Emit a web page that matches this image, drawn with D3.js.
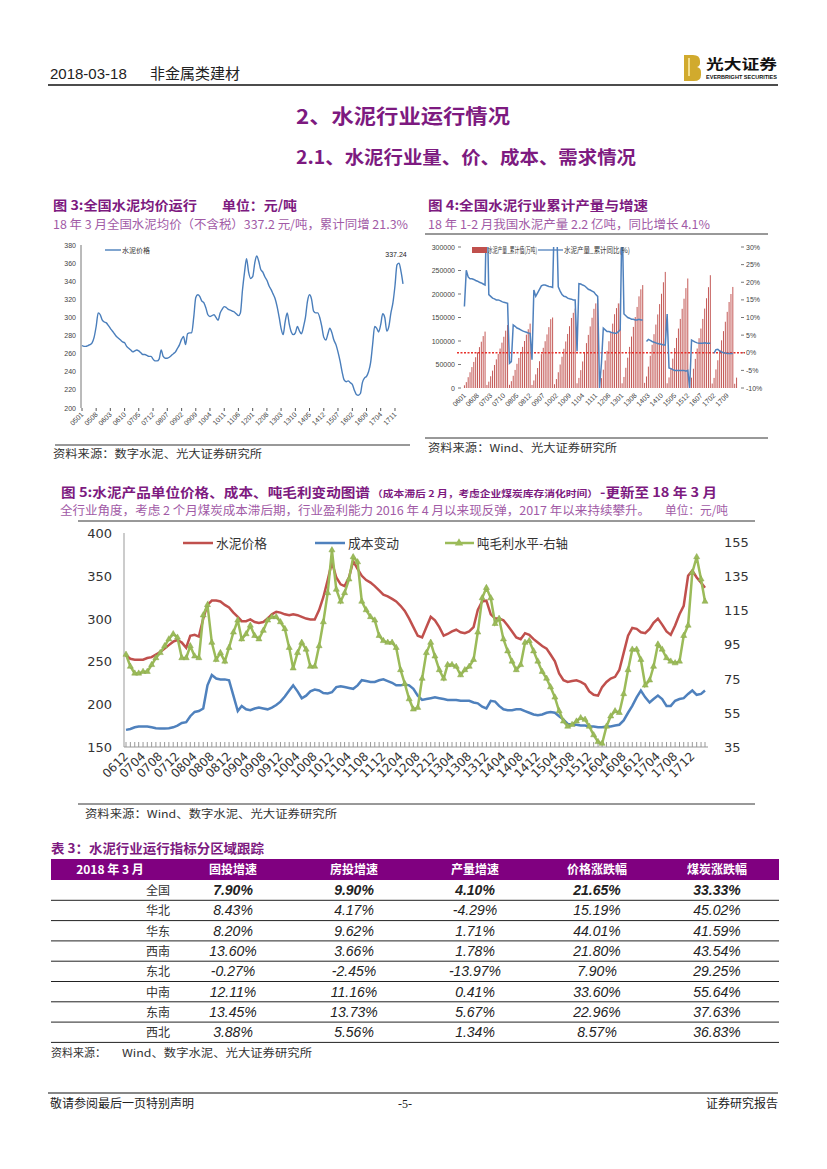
<!DOCTYPE html>
<html lang="zh">
<head>
<meta charset="utf-8">
<title>水泥行业运行情况</title>
<script src="https://d3js.org/d3.v7.min.js"></script>
<style>
  body { margin: 0; background: #fff; }
  svg { display: block; }
</style>
</head>
<body>
<script>
// ---------------- 数据 ----------------
// 图3：全国水泥均价（元/吨），2005-01 ~ 2018-03 月度
var price3Start = new Date(2005, 0, 1);
var price3 = [269,268,268,269,270,272,278,290,305,303,297,295,294,291,288,285,282,279,277,275,273,272,268,266,
  264,262,263,264,263,261,259,259,258,257,257,254,252,252,254,264,257,255,255,256,258,260,262,266,
  270,276,279,270,282,283,283,300,322,325,323,318,316,310,303,301,302,303,300,297,305,309,312,311,
  309,308,307,306,304,302,305,330,350,365,350,343,345,360,368,362,353,350,345,341,335,331,326,321,
  312,300,288,281,295,305,293,284,281,283,290,285,282,290,300,318,325,320,307,305,305,300,290,278,
  275,282,288,283,275,270,262,252,240,231,229,230,228,226,220,215,214,216,228,233,235,240,250,270,
  290,288,284,292,304,300,285,290,305,316,335,358,360,350,337];
var price3Ticks = ["0501","0508","0603","0610","0705","0712","0807","0902","0909","1004","1011","1106",
  "1201","1208","1303","1310","1405","1412","1507","1602","1609","1704","1711"];

// 图4：水泥产量累计值（万吨）与累计同比（%），2006-01 ~ 2018-02
var output4Start = new Date(2006, 0, 1);
var outputCum = [
  5800,12500,23000,33500,44500,55500,65500,76000,87000,98500,110500,120000,
  6500,13500,25000,37000,49000,61000,72500,84000,96500,109000,122000,134000,
  6800,14500,26000,38500,51500,64000,75500,87500,100000,113500,125000,137000,
  6500,16000,29000,42500,57000,72000,85500,99500,114000,129500,146500,150000,
  8000,19000,33500,50000,66500,83500,99000,115000,131500,149000,160000,169000,
  10000,21500,38000,56500,76000,95500,113000,131000,149500,168500,180000,190000,
  9000,21000,39000,58500,79000,99500,118500,137000,157000,170000,180000,180000,
  10000,23500,43000,64500,87500,109500,130000,151000,172500,195000,210000,219000,
  11000,24500,45500,68500,92000,114500,135000,156500,178500,200500,225000,247000,
  10000,22500,41500,62500,85000,106500,126500,147000,168500,190000,212500,233000,
  10000,22000,41000,62000,84000,106000,126500,147000,169000,191000,214500,240000,
  9500,21500,39500,59000,80500,101500,121000,141000,162000,183000,200000,215000,
  9000,22075];
var outputYoY = [
  13.1,23.4,21.5,21.0,21.0,20.8,20.5,20.3,20.0,19.8,19.5,19.2,
  45,16.5,16.0,15.5,15.3,15.0,15.0,14.8,14.5,14.3,14.2,14.0,
  -3.0,-2.5,7.9,7.5,7.0,6.8,6.5,6.2,6.0,5.8,5.6,5.5,
  -2.0,17.8,16.0,17.0,18.0,19.0,19.2,19.2,19.0,18.8,18.7,18.5,
  40,40,18.7,17.5,16.5,16.0,15.9,15.5,15.3,15.2,15.0,15.0,
  0.4,19.6,19.5,19.2,19.0,18.5,18.0,17.8,17.5,17.2,16.5,16.0,
  -10,-3,7.0,6.5,6.0,6.0,5.8,5.7,5.5,5.5,6.0,6.5,
  40,11.0,10.5,10.0,9.8,9.5,9.5,9.3,9.3,9.5,9.3,9.3,
  null,3.2,3.8,3.5,3.2,3.0,2.8,2.6,2.5,2.4,2.2,2.2,
  11,-4.3,-4.5,-4.8,-5.0,-5.0,-5.0,-5.0,-5.0,-5.0,-5.2,-5.0,
  -10,3.6,3.3,3.0,2.8,2.7,2.7,2.7,2.8,2.7,2.7,2.7,
  null,-0.1,0.9,1.0,0.5,0.2,0.0,-0.1,-0.2,-0.2,-0.2,-0.2,
  null,0.0];
var output4Ticks = ["0601","0608","0703","0710","0805","0812","0907","1002","1009","1104","1111",
  "1206","1301","1308","1403","1410","1505","1512","1607","1702","1709"];

// 图5：水泥价格、成本变动（左轴，元/吨），吨毛利水平（右轴），2006-12 ~ 2018-03
var series5Start = new Date(2006, 11, 1);
var cementPrice = [257,253,252,252,252,254,255,258,261,265,269,273,275,272,266,280,281,279,300,316,321,321,320,316,
  313,307,302,297,297,299,296,295,296,300,305,308,307,305,304,305,304,302,300,299,299,310,325,345,
  366,348,340,338,348,367,358,350,345,342,338,333,328,326,323,320,315,309,300,290,280,278,290,302,
  298,290,280,282,285,287,284,283,285,290,310,320,321,305,300,300,298,292,285,278,276,283,281,276,
  272,268,265,258,250,236,228,226,227,228,226,223,215,211,210,220,226,230,232,240,260,280,289,288,
  284,283,288,295,300,293,285,281,292,305,315,350,356,348,342,336];
var costIndex = [170,171,173,174,174,174,173,172,171.5,171.5,172,173,175,178,179,186,191,192,195,222,234,230,229,229,
  228,210,192,198,194,193,195,196,195,194,196,199,203,209,216,222,215,207,210,215,217,216,213,212.5,
  214,220,221,220,219,218,222,228,227,226,226,228,229,227,225,222,222,223,222,218,210,205,206,207,
  208,207,206,205,205,205,204,204,204,202,201,197,195,204,203,198,194,193,193,194,194,192,190,188,
  187,188,190,191,190,186,182,177,176,176,175,175,174,174,173,173,174,174,175,176,181,190,198,208,
  216,208,202,206,210,206,198,198,204,206,207,212,216,211,212,216];
var grossProfit = [89,82,78,78,79,79,83,87,90,94,98,101,99,87,87,94,88,87,112,118,96,86,90,85,
  93,102,109,98,101,106,100,98,103,109,111,111,108,104,93,81,90,96,92,82,82,94,108,125,
  150,127,120,125,133,146,143,120,115,111,109,100,97,96,96,93,80,72,63,57,58,75,90,96,
  88,80,75,83,83,82,77,80,82,86,102,122,128,122,107,110,98,91,85,80,83,96,97,91,
  85,79,75,70,64,56,50,47,48,50,52,51,47,42,38,37,47,53,56,55,66,80,92,92,
  86,71,74,82,95,92,87,85,84,85,100,106,137,146,133,120];
var series5Ticks = ["0612","0704","0708","0712","0804","0808","0812","0904","0908","0912","1004","1008",
  "1012","1104","1108","1112","1204","1208","1212","1304","1308","1312","1404","1408","1412","1504",
  "1508","1512","1604","1608","1612","1704","1708","1712"];

// 表3
var tableHeader = ["2018 年 3 月", "固投增速", "房投增速", "产量增速", "价格涨跌幅", "煤炭涨跌幅"];
var tableRegions = ["全国", "华北", "华东", "西南", "东北", "中南", "东南", "西北"];
var tableValues = [
  ["7.90%", "9.90%", "4.10%", "21.65%", "33.33%"],
  ["8.43%", "4.17%", "-4.29%", "15.19%", "45.02%"],
  ["8.20%", "9.62%", "1.71%", "44.01%", "41.59%"],
  ["13.60%", "3.66%", "1.78%", "21.80%", "43.54%"],
  ["-0.27%", "-2.45%", "-13.97%", "7.90%", "29.25%"],
  ["12.11%", "11.16%", "0.41%", "33.60%", "55.64%"],
  ["13.45%", "13.73%", "5.67%", "22.96%", "37.63%"],
  ["3.88%", "5.56%", "1.34%", "8.57%", "36.83%"]
];

// ---------------- 画布 ----------------
var W = 827, H = 1169;
var CJK = "'Noto Sans CJK SC', 'Noto Sans', sans-serif";
var SANS = "'Liberation Sans', Arial, sans-serif";
var PURPLE = "#7d1a80", PURPLE_L = "#a15aa6";
var RED = "#c0504d", BLUE = "#4f81bd", GREEN = "#9bbb59";
var parseYM = d3.timeParse("%y%m");

var svg = d3.select("body").append("svg")
    .attr("width", W)
    .attr("height", H)
    .style("background", "#fff");

function text(g, x, y, s, o) {
  o = o || {};
  var t = g.append("text")
      .attr("x", x).attr("y", y)
      .attr("font-family", o.family || CJK)
      .attr("font-size", o.size || 12)
      .attr("fill", o.fill || "#222")
      .attr("text-anchor", o.anchor || "start")
      .text(s);
  if (o.weight) t.attr("font-weight", o.weight);
  if (o.style) t.attr("font-style", o.style);
  if (o.len) t.attr("textLength", o.len).attr("lengthAdjust", "spacingAndGlyphs");
  return t;
}
function hline(x1, x2, y, color, w) {
  svg.append("line").attr("x1", x1).attr("x2", x2).attr("y1", y).attr("y2", y)
    .attr("stroke", color || "#000").attr("stroke-width", w || 1);
}

// ---------------- 页眉 ----------------
text(svg, 50, 79, "2018-03-18", {family: SANS, size: 15, fill: "#222"});
text(svg, 150, 79, "非金属类建材", {size: 15, fill: "#222"});
hline(48, 778, 85, "#111", 1.3);
// 标志
svg.append("path")
  .attr("d", "M684,55 h9 q7,0 7,6 v2 q0,3 -3,4 q4,1 4,5 v3 q0,6 -7,6 h-10 z")
  .attr("fill", "#d1aa2d");
svg.append("rect").attr("x", 688).attr("y", 58).attr("width", 2).attr("height", 18).attr("fill", "#f3dd8c");
text(svg, 706, 69, "光大证券", {size: 14, weight: "bold", fill: "#111", len: 71});
text(svg, 706, 79, "EVERBRIGHT SECURITIES", {family: SANS, size: 5, weight: "bold", fill: "#111", len: 71});

// ---------------- 节标题 ----------------
text(svg, 296, 124, "2、水泥行业运行情况", {size: 20, weight: "bold", fill: PURPLE, len: 214});
text(svg, 296, 164, "2.1、水泥行业量、价、成本、需求情况", {size: 18, weight: "bold", fill: PURPLE, len: 340});

// ---------------- 图3 ----------------
text(svg, 53, 210, "图 3:全国水泥均价运行", {size: 13, weight: "bold", fill: PURPLE, len: 144});
text(svg, 222, 210, "单位：元/吨", {size: 13, weight: "bold", fill: PURPLE, len: 75});
text(svg, 53, 229, "18 年 3 月全国水泥均价（不含税）337.2 元/吨，累计同增 21.3%", {size: 12, fill: PURPLE_L, len: 355});

var months3 = d3.timeMonth.range(price3Start, d3.timeMonth.offset(price3Start, price3.length));
var x3 = d3.scaleTime().domain([months3[0], months3[months3.length - 1]]).range([82, 403]);
var y3 = d3.scaleLinear().domain([200, 380]).range([408, 245]);
var g3 = svg.append("g");
g3.append("line").attr("x1", 81).attr("x2", 81).attr("y1", 245).attr("y2", 408).attr("stroke", "#777");
y3.ticks(9).forEach(function (v) {
  text(g3, 76, y3(v) + 2.5, v, {family: SANS, size: 7, fill: "#444", anchor: "end"});
});
price3Ticks.forEach(function (s) {
  var xx = x3(parseYM(s));
  g3.append("line").attr("x1", xx).attr("x2", xx).attr("y1", 408).attr("y2", 411).attr("stroke", "#555");
  text(g3, 0, 0, s, {family: SANS, size: 7, fill: "#444", anchor: "end"})
    .attr("transform", "translate(" + (xx + 2) + ",415) rotate(-45)");
});
g3.append("path")
  .datum(price3)
  .attr("fill", "none").attr("stroke", "#4a7ebb").attr("stroke-width", 1.4)
  .attr("d", d3.line().x(function (d, i) { return x3(months3[i]); }).y(function (d) { return y3(d); }).curve(d3.curveMonotoneX));
g3.append("line").attr("x1", 105).attr("x2", 121).attr("y1", 250).attr("y2", 250).attr("stroke", "#4a7ebb").attr("stroke-width", 1.4);
text(g3, 122, 253, "水泥价格", {size: 7, fill: "#333"});
text(g3, 396, 257, "337.24", {family: SANS, size: 7, fill: "#222", anchor: "middle"});
hline(55, 410, 445, "#333", 1);
text(svg, 53, 458, "资料来源：数字水泥、光大证券研究所", {size: 11, fill: "#333", len: 209});

// ---------------- 图4 ----------------
text(svg, 428, 210, "图 4:全国水泥行业累计产量与增速", {size: 13, weight: "bold", fill: PURPLE, len: 220});
text(svg, 428, 229, "18 年 1-2 月我国水泥产量 2.2 亿吨，同比增长 4.1%", {size: 12, fill: PURPLE_L, len: 282});
hline(425, 768, 234, "#333", 1);

var months4 = d3.timeMonth.range(output4Start, d3.timeMonth.offset(output4Start, outputCum.length));
var x4 = d3.scaleBand().domain(months4).range([463, 738]).padding(0.5);
var y4L = d3.scaleLinear().domain([0, 300000]).range([388, 247]);
var y4R = d3.scaleLinear().domain([-10, 30]).range([388, 247]);
var g4 = svg.append("g");
y4L.ticks(6).forEach(function (v) {
  text(g4, 455, y4L(v) + 2.5, v, {family: SANS, size: 7, fill: "#444", anchor: "end"});
  g4.append("line").attr("x1", 458).attr("x2", 461).attr("y1", y4L(v)).attr("y2", y4L(v)).attr("stroke", "#777");
});
d3.range(-10, 31, 5).forEach(function (v) {
  text(g4, 746, y4R(v) + 2.5, v + "%", {family: SANS, size: 7, fill: "#444"});
  g4.append("line").attr("x1", 741).attr("x2", 744).attr("y1", y4R(v)).attr("y2", y4R(v)).attr("stroke", "#777");
});
g4.selectAll("rect.bar").data(outputCum).enter().append("rect")
  .attr("class", "bar")
  .attr("x", function (d, i) { return x4(months4[i]); })
  .attr("width", x4.bandwidth())
  .attr("y", function (d) { return y4L(d); })
  .attr("height", function (d) { return 388 - y4L(d); })
  .attr("fill", RED);
g4.append("line").attr("x1", 457).attr("x2", 745).attr("y1", y4R(0)).attr("y2", y4R(0))
  .attr("stroke", "#e8302a").attr("stroke-width", 1.5).attr("stroke-dasharray", "2,1.5");
svg.append("clipPath").attr("id", "clip4").append("rect").attr("x", 455).attr("y", 247).attr("width", 290).attr("height", 145);
g4.append("path")
  .datum(outputYoY)
  .attr("clip-path", "url(#clip4)")
  .attr("fill", "none").attr("stroke", BLUE).attr("stroke-width", 1.5)
  .attr("d", d3.line()
    .defined(function (d) { return d !== null; })
    .x(function (d, i) { return x4(months4[i]) + x4.bandwidth() / 2; })
    .y(function (d) { return y4R(d); }));
output4Ticks.forEach(function (s) {
  var xx = x4(parseYM(s)) + x4.bandwidth() / 2;
  text(g4, 0, 0, s, {family: SANS, size: 7, fill: "#444", anchor: "end"})
    .attr("transform", "translate(" + (xx + 2) + ",396) rotate(-45)");
});
// 图例
g4.append("rect").attr("x", 472).attr("y", 247).attr("width", 15).attr("height", 6).attr("fill", RED);
text(g4, 488, 253, "水泥产量_累计值(万吨)", {size: 8, fill: "#333", len: 49});
g4.append("line").attr("x1", 538).attr("x2", 563).attr("y1", 250).attr("y2", 250).attr("stroke", BLUE).attr("stroke-width", 1.3);
text(g4, 564, 253, "水泥产量_累计同比(%)", {size: 8, fill: "#333", len: 66});
hline(425, 768, 438, "#333", 1);
text(svg, 428, 452, "资料来源：Wind、光大证券研究所", {size: 11, fill: "#333", len: 189});

// ---------------- 图5 ----------------
text(svg, 61, 497, "图 5:水泥产品单位价格、成本、吨毛利变动图谱", {size: 13, weight: "bold", fill: PURPLE, len: 309});
text(svg, 372, 497, "（成本滞后 2 月，考虑企业煤炭库存消化时间）", {size: 9, weight: "bold", fill: PURPLE, len: 226});
text(svg, 600, 497, "-更新至 18 年 3 月", {size: 13, weight: "bold", fill: PURPLE, len: 117});
text(svg, 60, 515, "全行业角度，考虑 2 个月煤炭成本滞后期，行业盈利能力 2016 年 4 月以来现反弹，2017 年以来持续攀升。", {size: 12, fill: PURPLE_L, len: 590});
text(svg, 665, 515, "单位：元/吨", {size: 12, fill: PURPLE_L, len: 63});
hline(78, 755, 521, "#333", 1);

var months5 = d3.timeMonth.range(series5Start, d3.timeMonth.offset(series5Start, cementPrice.length));
var x5 = d3.scaleTime().domain([months5[0], months5[months5.length - 1]]).range([126, 705]);
var y5L = d3.scaleLinear().domain([150, 400]).range([747, 533]);
var y5R = d3.scaleLinear().domain([35, 160]).range([747, 533]);
var g5 = svg.append("g");
var AX = "'DejaVu Sans', sans-serif";
g5.append("line").attr("x1", 124).attr("x2", 124).attr("y1", 533).attr("y2", 747).attr("stroke", "#999");
g5.append("line").attr("x1", 124).attr("x2", 708).attr("y1", 747).attr("y2", 747).attr("stroke", "#999");
d3.range(150, 401, 50).forEach(function (v) {
  text(g5, 112, y5L(v) + 5, v, {family: AX, size: 13, fill: "#333", anchor: "end"});
});
d3.range(35, 156, 20).forEach(function (v) {
  text(g5, 724, y5R(v) + 5, v, {family: AX, size: 13, fill: "#333"});
});
months5.forEach(function (m) {
  var xx = x5(m);
  g5.append("line").attr("x1", xx).attr("x2", xx).attr("y1", 742).attr("y2", 747).attr("stroke", "#999");
});
series5Ticks.forEach(function (s) {
  var xx = x5(parseYM(s));
  text(g5, 0, 0, s, {family: AX, size: 12, fill: "#333", anchor: "end"})
    .attr("transform", "translate(" + (xx + 3) + ",757) rotate(-45)");
});
var line5L = d3.line().x(function (d, i) { return x5(months5[i]); }).y(function (d) { return y5L(d); });
var line5R = d3.line().x(function (d, i) { return x5(months5[i]); }).y(function (d) { return y5R(d); });
g5.append("path").datum(costIndex).attr("fill", "none").attr("stroke", BLUE).attr("stroke-width", 2.5).attr("d", line5L);
g5.append("path").datum(cementPrice).attr("fill", "none").attr("stroke", RED).attr("stroke-width", 2.5).attr("d", line5L);
g5.append("path").datum(grossProfit).attr("fill", "none").attr("stroke", GREEN).attr("stroke-width", 2.5).attr("d", line5R);
var tri = d3.symbol().type(d3.symbolTriangle).size(16);
g5.selectAll("path.mk").data(grossProfit).enter().append("path")
  .attr("class", "mk")
  .attr("d", tri)
  .attr("transform", function (d, i) { return "translate(" + x5(months5[i]) + "," + y5R(d) + ")"; })
  .attr("fill", GREEN).attr("stroke", "#8aa84c").attr("stroke-width", 0.5);
// 图例
g5.append("line").attr("x1", 183).attr("x2", 213).attr("y1", 543).attr("y2", 543).attr("stroke", RED).attr("stroke-width", 2.5);
text(g5, 216, 548, "水泥价格", {size: 13, fill: "#333", len: 51});
g5.append("line").attr("x1", 315).attr("x2", 345).attr("y1", 543).attr("y2", 543).attr("stroke", BLUE).attr("stroke-width", 2.5);
text(g5, 348, 548, "成本变动", {size: 13, fill: "#333", len: 51});
g5.append("line").attr("x1", 445).attr("x2", 474).attr("y1", 543).attr("y2", 543).attr("stroke", GREEN).attr("stroke-width", 2.5);
g5.append("path").attr("d", d3.symbol().type(d3.symbolTriangle).size(30)).attr("transform", "translate(459,543)").attr("fill", GREEN);
text(g5, 477, 548, "吨毛利水平-右轴", {size: 13, fill: "#333", len: 91});
hline(78, 755, 804, "#333", 1);
text(svg, 85, 818, "资料来源：Wind、数字水泥、光大证券研究所", {size: 11, fill: "#333", len: 252});

// ---------------- 表3 ----------------
text(svg, 51, 853, "表 3：水泥行业运行指标分区域跟踪", {size: 13, weight: "bold", fill: PURPLE, len: 213});
var colX = [110, 233, 354, 475, 597, 717];
svg.append("rect").attr("x", 51).attr("y", 859).attr("width", 728).attr("height", 21).attr("fill", "#800080");
tableHeader.forEach(function (h, i) {
  text(svg, colX[i], 874, h, {size: 12, weight: "bold", fill: "#fff", anchor: "middle"});
});
var rowTop = 880, rowH = 20.3;
tableRegions.forEach(function (r, i) {
  var cy = rowTop + rowH * i + rowH / 2;
  text(svg, 170, cy + 5, r, {size: 12, fill: "#333", anchor: "end"});
  tableValues[i].forEach(function (v, j) {
    text(svg, colX[j + 1], cy + 5, v, {family: "'Liberation Sans Narrow', 'Liberation Sans', sans-serif", size: 14,
      fill: "#222", anchor: "middle", style: "italic", weight: i === 0 ? "bold" : null});
  });
  hline(51, 779, rowTop + rowH * (i + 1), "#222", 1);
});
text(svg, 51, 1057, "资料来源：", {size: 11, fill: "#333"});
text(svg, 122, 1057, "Wind、数字水泥、光大证券研究所", {size: 11, fill: "#333", len: 190});

// ---------------- 页脚 ----------------
hline(48, 778, 1093, "#111", 1.2);
text(svg, 50, 1108, "敬请参阅最后一页特别声明", {size: 12, fill: "#222"});
text(svg, 405, 1108, "-5-", {family: "'Liberation Serif', serif", size: 12, fill: "#222", anchor: "middle"});
text(svg, 778, 1108, "证券研究报告", {size: 12, fill: "#222", anchor: "end"});
</script>
</body>
</html>
